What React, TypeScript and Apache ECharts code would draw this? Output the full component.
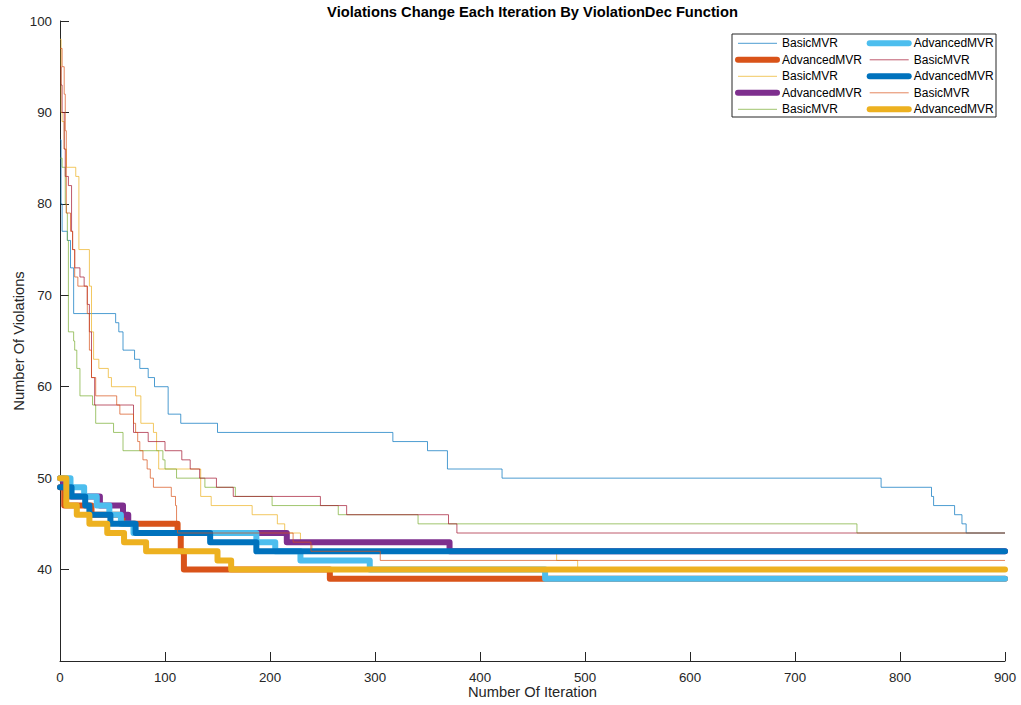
import React, { useEffect, useRef } from 'react';
import * as echarts from 'echarts';

type Pt = [number, number];

// Each pair: [iteration where the value changes, number of violations from there on]
const basicBlue: Pt[] = [[0,87],[1,80],[2,77],[7,76],[10,73],[13,68],[53,67],[56,66],[60,64],[71,63],[76,62],[84,61],[90,60],[103,57],[115,56],[150,55],[317,54],[350,53],[369,51],[421,50],[782,49],[830,48],[832,47],[852,46],[859,45],[863,44],[900,44]];
const advancedOrange: Pt[] = [[0,49],[4,47],[30,46],[60,45],[112,44],[115,42],[118,40],[257,39],[900,39]];
const basicYellow: Pt[] = [[0,98],[1,90],[2,89],[4,86],[6,84],[15,83],[18,75],[28,71],[30,66],[32,63],[37,62],[46,61],[49,60],[72,59],[77,56],[89,55],[92,53],[94,51],[134,48],[144,47],[183,46],[207,45],[214,44],[229,43],[240,42],[473,41],[493,40],[900,40]];
const advancedPurple: Pt[] = [[0,50],[3,49],[6,48],[38,47],[60,46],[65,45],[71,44],[216,43],[371,42],[900,42]];
const basicGreen: Pt[] = [[0,85],[2,84],[5,80],[6,79],[7,76],[8,66],[13,65],[14,64],[16,62],[19,59],[31,58],[34,56],[51,55],[60,53],[98,52],[100,51],[111,50],[138,49],[167,48],[202,47],[265,46],[341,45],[759,44],[900,44]];
const advancedSky: Pt[] = [[0,50],[10,49],[23,48],[35,47],[47,46],[58,45],[70,44],[187,43],[205,42],[229,41],[295,40],[462,39],[900,39]];
const basicRed: Pt[] = [[0,95],[1,93],[2,90],[4,86],[5,83],[8,82],[11,77],[12,75],[14,73],[19,72],[23,71],[26,69],[28,66],[30,61],[33,58],[70,55],[84,54],[100,53],[116,52],[124,51],[133,50],[149,49],[165,48],[248,47],[273,46],[370,45],[378,44],[900,44]];
const advancedBlue: Pt[] = [[0,49],[11,48],[24,47],[28,46],[48,45],[72,44],[143,43],[187,42],[900,42]];
const basicOrange: Pt[] = [[0,97],[2,95],[4,92],[5,88],[6,79],[10,77],[12,75],[14,72],[17,71],[26,68],[28,64],[30,61],[34,59],[54,58],[57,57],[70,56],[72,55],[74,54],[76,53],[79,52],[83,51],[86,50],[89,49],[106,48],[110,47],[111,45],[112,44],[222,43],[239,42],[305,41],[900,41]];
const advancedGold: Pt[] = [[0,50],[6,47],[16,46],[28,45],[45,44],[61,43],[82,42],[150,41],[163,40],[900,40]];

const seriesLabels = ['BasicMVR', 'AdvancedMVR', 'BasicMVR', 'AdvancedMVR', 'BasicMVR', 'AdvancedMVR', 'BasicMVR', 'AdvancedMVR', 'BasicMVR', 'AdvancedMVR'];
const seriesData = [basicBlue, advancedOrange, basicYellow, advancedPurple, basicGreen, advancedSky, basicRed, advancedBlue, basicOrange, advancedGold];

const xTicks = { min: 0, max: 900, interval: 100 };
const yTicks = { min: 30, max: 100, interval: 10 };

const colors = ['#0072BD', '#D95319', '#EDB120', '#7E2F8E', '#77AC30', '#4DBEEE', '#A2142F', '#0072BD', '#D95319', '#EDB120'];
const FONT = '"Liberation Sans", Arial, Helvetica, sans-serif';
const AXIS = '#262626';

export default function App() {
  const ref = useRef<HTMLDivElement>(null);
  useEffect(() => {
    const chart = echarts.init(ref.current!, null, { renderer: 'svg' });
    const ids = seriesLabels.map((n, i) => `${n}#${i + 1}`);
    const isThick = (i: number) => seriesLabels[i] === 'AdvancedMVR';
    const series = seriesData.map((d, i) => ({
      type: 'line',
      name: ids[i],
      data: d,
      step: 'end',
      symbol: 'none',
      showSymbol: false,
      color: colors[i],
      lineStyle: isThick(i)
        ? { color: colors[i], width: 6, cap: 'round', join: 'round' }
        : { color: colors[i], width: 1, opacity: 0.7 },
      z: 2,
    }));
    const legendItem = (i: number) => ({
      name: ids[i],
      itemStyle: { opacity: 0 },
      lineStyle: isThick(i) ? { width: 6, color: colors[i] } : { width: 1, color: colors[i], opacity: 0.7 },
    });
    const legendCommon = {
      orient: 'vertical',
      top: 36.3,
      padding: 0,
      itemWidth: 39,
      itemHeight: 12,
      itemGap: 2.5,
      selectedMode: false,
      formatter: (n: string) => n.replace(/#\d+$/, ''),
      textStyle: { fontFamily: FONT, fontSize: 12, color: '#000', lineHeight: 14 },
      z: 10,
    };
    chart.setOption({
      animation: false,
      backgroundColor: '#fff',
      title: {
        text: 'Violations Change Each Iteration By ViolationDec Function',
        left: 532.5,
        top: 4,
        padding: 0,
        textAlign: 'center',
        textStyle: { fontFamily: FONT, fontSize: 14.7, fontWeight: 'bold', color: '#000' },
      },
      grid: { left: 60, top: 21, right: 16, bottom: 44, containLabel: false, outerBoundsMode: 'none' },
      xAxis: {
        type: 'value',
        ...xTicks,
        name: 'Number Of Iteration',
        nameLocation: 'middle',
        nameGap: 23,
        nameMoveOverlap: false,
        nameTextStyle: { fontFamily: FONT, fontSize: 14.7, color: AXIS },
        axisLine: { show: true, lineStyle: { color: AXIS, width: 1 } },
        axisTick: { show: true, inside: true, length: 9, lineStyle: { color: AXIS } },
        axisLabel: { fontFamily: FONT, fontSize: 13.3, color: AXIS, margin: 10 },
        splitLine: { show: false },
      },
      yAxis: {
        type: 'value',
        ...yTicks,
        name: 'Number Of Violations',
        nameLocation: 'middle',
        nameGap: 34,
        nameMoveOverlap: false,
        nameTextStyle: { fontFamily: FONT, fontSize: 14.7, color: AXIS },
        axisLine: { show: true, lineStyle: { color: AXIS, width: 1 } },
        axisTick: { show: true, inside: true, length: 9, lineStyle: { color: AXIS } },
        axisLabel: {
          fontFamily: FONT, fontSize: 13.3, color: AXIS, margin: 8,
          formatter: (v: number) => (v === yTicks.min ? '' : String(v)),
        },
        splitLine: { show: false },
      },
      legend: [
        { ...legendCommon, left: 735, data: [0, 1, 2, 3, 4].map(legendItem) },
        { ...legendCommon, left: 866.7, data: [5, 6, 7, 8, 9].map(legendItem) },
      ],
      graphic: [
        {
          type: 'rect',
          shape: { x: 732, y: 34, width: 264, height: 83 },
          style: { fill: '#fff', stroke: AXIS, lineWidth: 1 },
          z: 5,
        },
      ],
      series,
    });
    return () => chart.dispose();
  }, []);
  return (
    <div
      ref={ref}
      style={{ position: 'fixed', left: 0, top: 0, width: 1021, height: 705, background: '#fff' }}
    />
  );
}
